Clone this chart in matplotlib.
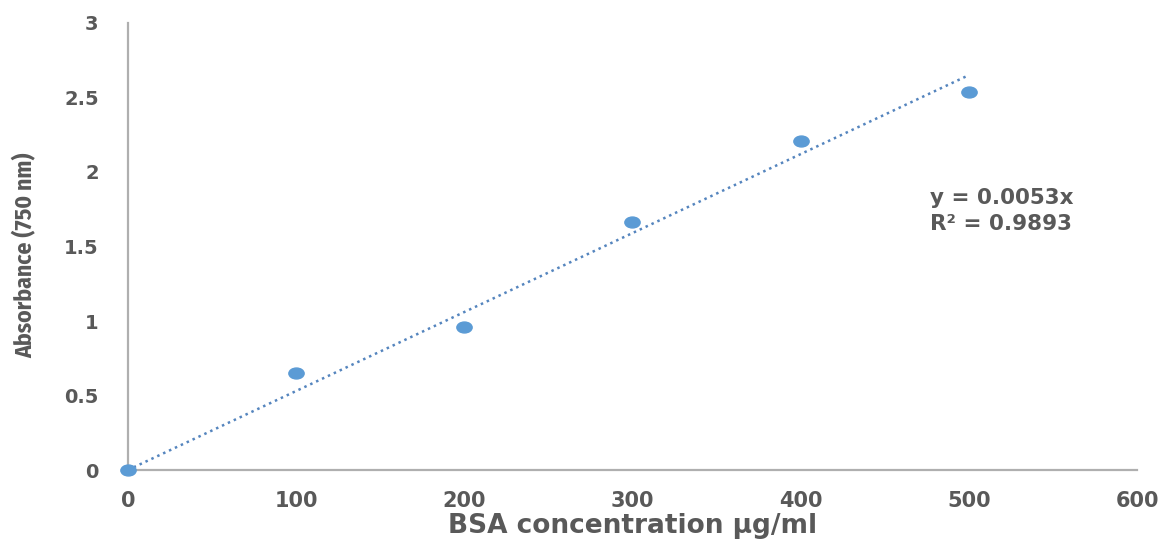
import matplotlib
matplotlib.use("Agg")
import matplotlib.pyplot as plt
import numpy as np
from matplotlib.path import Path

# Data
bsa_conc = [0, 100, 200, 300, 400, 500]
absorbance = [0.0, 0.65, 0.96, 1.665, 2.205, 2.54]
slope = 0.0053
r2 = 0.9893
x_ticks = [0, 100, 200, 300, 400, 500, 600]
y_ticks = [0, 0.5, 1, 1.5, 2, 2.5, 3]
y_tick_labels = ["0", "0.5", "1", "1.5", "2", "2.5", "3"]

wide = ["DejaVu Sans"]
narrow = ["Fira Sans Condensed", "Roboto", "DejaVu Sans"]

fig = plt.figure(figsize=(11.62, 5.42), dpi=100)
ax = fig.add_axes([0.110, 0.1328, 0.8685, 0.8248])

blue = "#5B9BD5"
trend_col = "#5585BE"
grey_txt = "#595959"
axis_col = "#AFAFAF"

# trendline
xt = np.array([0, 500])
ax.plot(xt, slope * xt, linestyle=(0, (1, 1.6)), color=trend_col, lw=1.8, zorder=2)

# ellipse marker
circ = Path.unit_circle()
ell = Path(circ.vertices * np.array([1.4, 1.0]), circ.codes)
ax.plot(bsa_conc, absorbance, linestyle="none", marker=ell, markersize=11,
        color=blue, markeredgecolor=blue, zorder=3, clip_on=False)

ax.set_xlim(0, 600)
ax.set_ylim(0, 3)
ax.set_xticks(x_ticks)
ax.set_xticklabels([str(v) for v in x_ticks], family=wide,
                   fontweight="bold", fontsize=15, color=grey_txt)
ax.set_yticks(y_ticks)
ax.set_yticklabels(y_tick_labels, family=wide,
                   fontweight="bold", fontsize=14, color=grey_txt)
ax.tick_params(axis="both", length=0)
ax.tick_params(axis="x", pad=15)
ax.tick_params(axis="y", pad=21)

for s in ["top", "right"]:
    ax.spines[s].set_visible(False)
for s in ["left", "bottom"]:
    ax.spines[s].set_color(axis_col)
    ax.spines[s].set_linewidth(1.6)

ax.set_xlabel("BSA concentration µg/ml", family=wide, fontweight="bold",
              fontsize=19, color=grey_txt, va="top")
ax.xaxis.set_label_coords(0.5, -0.096)
ax.set_ylabel("Absorbance (750 nm)", family=narrow, fontweight="bold",
              fontsize=17, color=grey_txt, va="center")
ax.yaxis.set_label_coords(-0.102, 0.481)

ax.text(477, 1.74, f"y = {slope}x\nR² = {r2}", family=wide,
        fontweight="bold", fontsize=15.5, color=grey_txt, ha="left", va="center",
        linespacing=1.4)

fig.savefig("out.png", dpi=100, facecolor="white")
